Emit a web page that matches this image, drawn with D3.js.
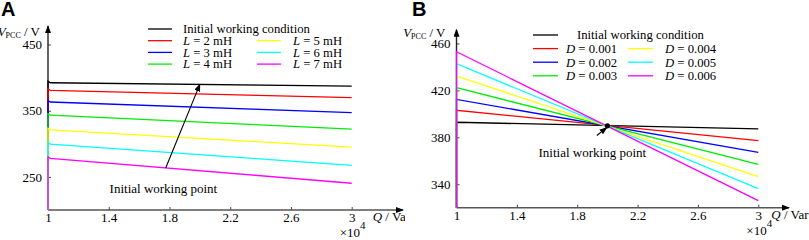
<!DOCTYPE html>
<html>
<head>
<meta charset="utf-8">
<script src="https://cdn.jsdelivr.net/npm/d3@7"></script>
<style>
  body { margin: 0; background: #fff; }
  svg { display: block; }
  text { font-family: "Liberation Serif", "Times New Roman", Times, serif; fill: #000; }
</style>
</head>
<body>
<svg id="chart" width="809" height="240"></svg>
<script>
const svg = d3.select('svg#chart');
const serif = '"Liberation Serif", "Times New Roman", Times, serif';

// shared x ticks (Q, x10^4 Var)
const qTicks = [1, 1.4, 1.8, 2.2, 2.6, 3];
const qTickLabels = ['1', '1.4', '1.8', '2.2', '2.6', '3'];

// panel A : changing inductance L
const qA = [1, 1, 1.015, 3];
const initA = [200, 394.5, 392.3, 387.3];
const lLabels = ['2 mH', '3 mH', '4 mH', '5 mH', '6 mH', '7 mH'];
const lValues = [
  [200, 383.0, 380.8, 369.7],
  [200, 365.5, 363.2, 347.1],
  [200, 345.5, 343.2, 322.2],
  [200, 323.5, 321.1, 295.1],
  [200, 302.0, 299.6, 267.4],
  [200, 280.5, 278.0, 240.4]
];
const yTicksA = [250, 350, 450];

// panel B : changing droop D
const qB = [1, 1, 3];
const initB = [320, 392.8, 387.1];
const dLabels = ['0.001', '0.002', '0.003', '0.004', '0.005', '0.006'];
const dValues = [
  [320, 403.0, 377.1],
  [320, 412.3, 367.2],
  [320, 422.3, 357.0],
  [320, 432.2, 346.5],
  [320, 442.7, 336.3],
  [320, 452.9, 326.0]
];
const yTicksB = [340, 380, 420, 460];
const workPointB = [2, 389.8];

const colors = ['#ff0000', '#0000ff', '#00ee00', '#ffff00', '#00ffff', '#ff00ff'];

const defs = svg.append('defs');
defs.append('marker')
    .attr('id', 'arrow')
    .attr('markerUnits', 'userSpaceOnUse')
    .attr('markerWidth', 8)
    .attr('markerHeight', 6)
    .attr('refX', 7)
    .attr('refY', 3)
    .attr('orient', 'auto')
  .append('path')
    .attr('d', 'M0,0 L8,3 L0,6 Z')
    .attr('fill', '#000');
defs.append('clipPath')
    .attr('id', 'clipA')
  .append('rect')
    .attr('x', 0).attr('y', 0).attr('width', 405).attr('height', 240);

const drawPanel = (props) => {
  const {
    clip, letter, letterX, xRange, xEnd, yDomain, yRange, yTicks,
    yLabelDx, yLabelY, qLabelDx,
    qs, init, series, varName, labels, legend, annotate
  } = props;

  const g = svg.append('g');
  if (clip) g.attr('clip-path', `url(#${clip})`);

  const xScale = d3.scaleLinear().domain([1, 3]).range(xRange);
  const yScale = d3.scaleLinear().domain(yDomain).range(yRange);
  const x0 = xRange[0];
  const yBottom = yRange[0];

  // panel letter
  g.append('text')
      .attr('x', letterX)
      .attr('y', 16)
      .style('font-family', 'Liberation Sans, Arial, sans-serif')
      .style('font-weight', 'bold')
      .style('font-size', '20px')
      .text(letter);

  // axes
  const xAxis = d3.axisBottom(xScale)
    .tickValues(qTicks)
    .tickFormat((d, i) => qTickLabels[i])
    .tickSizeInner(-3)
    .tickSizeOuter(0)
    .tickPadding(3);
  const yAxis = d3.axisLeft(yScale)
    .tickValues(yTicks)
    .tickSizeInner(-3)
    .tickSizeOuter(0)
    .tickPadding(6);

  const xg = g.append('g')
      .attr('transform', `translate(0,${yBottom})`)
      .call(xAxis);
  const yg = g.append('g')
      .attr('transform', `translate(${x0},0)`)
      .call(yAxis);
  [xg, yg].forEach(a => {
    a.attr('font-family', null);
    a.selectAll('.domain').remove();
    a.selectAll('line').attr('stroke', '#444');
    a.selectAll('text')
      .style('font-family', serif)
      .style('font-size', '13px');
  });

  g.append('line')
      .attr('x1', x0).attr('y1', yBottom)
      .attr('x2', xEnd).attr('y2', yBottom)
      .attr('stroke', '#555').attr('stroke-width', 1.4)
      .attr('marker-end', 'url(#arrow)');
  g.append('line')
      .attr('x1', x0).attr('y1', yBottom)
      .attr('x2', x0).attr('y2', yRange[1] - 2)
      .attr('stroke', '#222').attr('stroke-width', 1.4)
      .attr('marker-end', 'url(#arrow)');

  // axis titles
  const yt = g.append('text')
      .attr('x', x0 - yLabelDx)
      .attr('y', yLabelY)
      .attr('text-anchor', 'end')
      .style('font-size', '13px');
  yt.append('tspan').style('font-style', 'italic').text('V');
  yt.append('tspan').style('font-size', '8px').attr('dy', 2).text('PCC');
  yt.append('tspan').attr('dy', -2).text(' / V');

  const xt = g.append('text')
      .attr('x', xScale(3) + qLabelDx)
      .attr('y', yBottom + 11)
      .style('font-size', '13px');
  xt.append('tspan').style('font-style', 'italic').text('Q');
  xt.append('tspan').text(' / Var');

  const ex = g.append('text')
      .attr('x', xScale(3) - 12)
      .attr('y', yBottom + 27)
      .style('font-size', '13px');
  ex.append('tspan').text('×10');
  ex.append('tspan').attr('dy', -8).style('font-size', '11px').text('4');

  // curves
  const line = d3.line()
      .x(d => xScale(d[0]))
      .y(d => yScale(d[1]));
  const allSeries = [{ values: init, color: '#000' }]
    .concat(series.map((v, i) => ({ values: v, color: colors[i] })));
  g.selectAll('path.curve').data(allSeries)
    .enter().append('path')
      .attr('class', 'curve')
      .attr('fill', 'none')
      .attr('stroke', d => d.color)
      .attr('stroke-width', 1.3)
      .attr('d', d => line(qs.map((q, i) => [q, d.values[i]])));

  // legend
  const lg = g.append('g');
  const rows = [{ text: 'Initial working condition', color: '#000', col: 0, row: 0, plain: true }]
    .concat(labels.map((t, i) => ({
      text: t, color: colors[i], col: i < 3 ? 0 : 1, row: (i % 3) + 1
    })));
  rows.forEach(r => {
    const lx = legend.lineX[r.col];
    const ly = legend.y0 + r.row * legend.dy;
    lg.append('line')
        .attr('x1', lx).attr('x2', lx + legend.lineW)
        .attr('y1', ly).attr('y2', ly)
        .attr('stroke', r.color).attr('stroke-width', 1.3);
    const t = lg.append('text')
        .attr('x', r.plain ? legend.firstTextX : legend.textX[r.col])
        .attr('y', ly + 4.3)
        .style('font-size', '12.7px');
    if (r.plain) {
      t.text(r.text);
    } else {
      t.append('tspan').style('font-style', 'italic').text(varName);
      t.append('tspan').text(' = ' + r.text);
    }
  });

  annotate(g, xScale, yScale);
};

drawPanel({
  clip: 'clipA',
  letter: 'A',
  letterX: 1,
  xRange: [48, 351.7],
  xEnd: 403,
  yDomain: [200, 475],
  yRange: [210, 28],
  yTicks: yTicksA,
  yLabelDx: 8,
  yLabelY: 36,
  qLabelDx: 21,
  qs: qA,
  init: initA,
  series: lValues,
  varName: 'L',
  labels: lLabels,
  legend: { lineX: [148, 257], textX: [183, 293], firstTextX: 183, lineW: 24, y0: 29, dy: 11.7 },
  annotate: (g, xScale, yScale) => {
    g.append('line')
        .attr('x1', xScale(1.775)).attr('y1', yScale(263.5))
        .attr('x2', xScale(2)).attr('y2', yScale(389.8))
        .attr('stroke', '#000').attr('stroke-width', 1.1)
        .attr('marker-end', 'url(#arrow)');
    g.append('text')
        .attr('x', xScale(1.76))
        .attr('y', yScale(225.5))
        .attr('text-anchor', 'middle')
        .style('font-size', '13px')
        .text('Initial working point');
  }
});

drawPanel({
  clip: null,
  letter: 'B',
  letterX: 412,
  xRange: [456.5, 758.3],
  xEnd: 789,
  yDomain: [320, 470],
  yRange: [207.7, 31.7],
  yTicks: yTicksB,
  yLabelDx: 11,
  yLabelY: 37,
  qLabelDx: 13,
  qs: qB,
  init: initB,
  series: dValues,
  varName: 'D',
  labels: dLabels,
  legend: { lineX: [533, 628], textX: [566, 665], firstTextX: 577, lineW: 25, y0: 35, dy: 13.6 },
  annotate: (g, xScale, yScale) => {
    g.append('circle')
        .attr('cx', xScale(workPointB[0]))
        .attr('cy', yScale(workPointB[1]))
        .attr('r', 2.6)
        .attr('fill', '#000');
    g.append('line')
        .attr('x1', xScale(1.93)).attr('y1', yScale(381.5))
        .attr('x2', xScale(1.995)).attr('y2', yScale(388.3))
        .attr('stroke', '#000').attr('stroke-width', 1.1)
        .attr('marker-end', 'url(#arrow)');
    g.append('text')
        .attr('x', xScale(1.9))
        .attr('y', yScale(362.8))
        .attr('text-anchor', 'middle')
        .style('font-size', '13px')
        .text('Initial working point');
  }
});
</script>
</body>
</html>
